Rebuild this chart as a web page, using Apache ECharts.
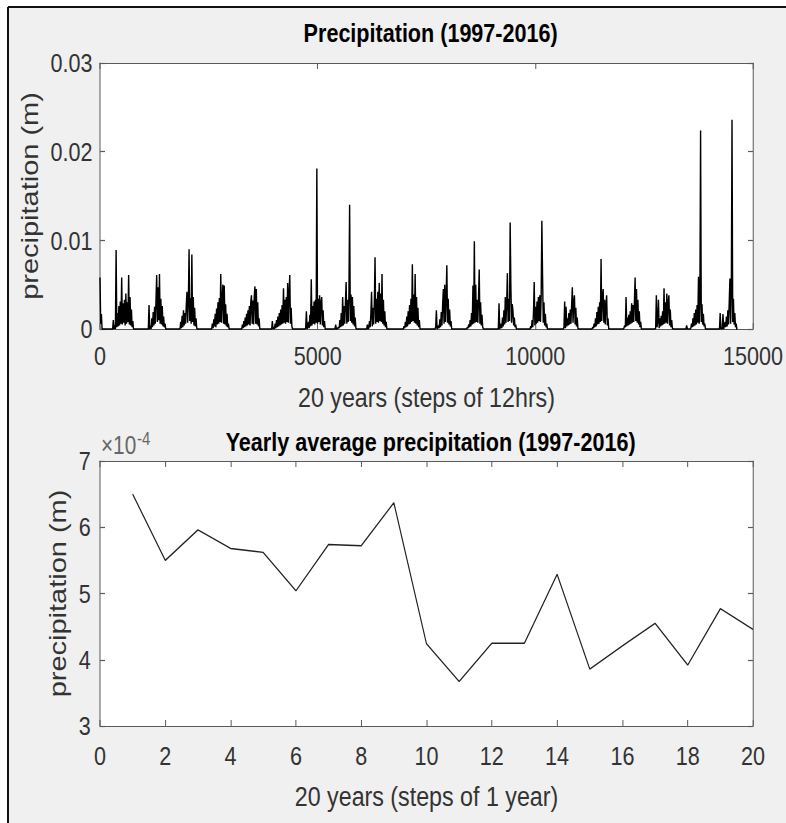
<!DOCTYPE html>
<html>
<head>
<meta charset="utf-8">
<script src="https://cdn.jsdelivr.net/npm/echarts@6/dist/echarts.min.js"></script>
<style>
  html, body { margin: 0; padding: 0; background: #ffffff; overflow: hidden; }
  #frame { width: 786px; height: 823px; overflow: hidden; position: relative; }
  #chart { height: 823px; transform-origin: 0 0; position: absolute; left: 0; top: 0; }
</style>
</head>
<body>
<div id="frame"><div id="chart"></div></div>
<script>
// ---- 12-hourly precipitation record (m), one block per wet season ----
// Each block holds samples taken every SAMPLE_GAP steps, starting at seasonStart[k].
const SAMPLE_GAP = 16;
const RECORD_END = 14610;
const seasonStart = [0, 290, 1110, 1838, 2566, 3255, 3943, 4709, 5398, 6126, 6967,
                     7695, 8423, 9150, 9878, 10642, 11302, 12020, 12748, 13460, 14230];

const season00 = [0.0058, 0.0006, 0.0017, 0];
const season01 = [0, 0.0010, 0, 0.0004, 0, 0.0089, 0.0002, 0.0018, 0.0003, 0.0026, 0.0004, 0.0031, 0.0006, 0.0058, 0.0005, 0.0029,
                  0.0007, 0.0033, 0.0004, 0.0040, 0.0006, 0.0030, 0.0008, 0.0061, 0.0005, 0.0036, 0.0004, 0.0022, 0.0002, 0.0009, 0];
const season02 = [0, 0.0027, 0, 0.0003, 0, 0.0012, 0.0002, 0.0019, 0.0004, 0.0025, 0.0006, 0.0032, 0.0061, 0.0008, 0.0047, 0.0010,
                  0.0062, 0.0006, 0.0034, 0.0005, 0.0026, 0.0003, 0.0014, 0.0002, 0.0006, 0];
const season03 = [0, 0.0008, 0.0001, 0.0015, 0.0002, 0.0021, 0.0004, 0.0018, 0.0006, 0.0027, 0.0042, 0.0007, 0.0031, 0.0090, 0.0009,
                  0.0035, 0.0006, 0.0084, 0.0008, 0.0036, 0.0004, 0.0024, 0.0003, 0.0012, 0.0001, 0];
const season04 = [0, 0.0006, 0.0001, 0.0011, 0.0003, 0.0017, 0.0002, 0.0023, 0.0005, 0.0030, 0.0006, 0.0035, 0.0008, 0.0062, 0.0007,
                  0.0033, 0.0050, 0.0006, 0.0049, 0.0005, 0.0028, 0.0003, 0.0017, 0.0002, 0.0006, 0];
const season05 = [0, 0.0005, 0.0001, 0.0009, 0.0002, 0.0013, 0.0003, 0.0017, 0.0004, 0.0021, 0.0005, 0.0026, 0.0004, 0.0030, 0.0038,
                  0.0006, 0.0032, 0.0005, 0.0036, 0.0048, 0.0006, 0.0045, 0.0005, 0.0030, 0.0003, 0.0012, 0];
const season06 = [0, 0.0009, 0, 0.0002, 0, 0.0006, 0.0001, 0.0010, 0.0002, 0.0014, 0.0003, 0.0018, 0.0004, 0.0022, 0.0005, 0.0027,
                  0.0006, 0.0046, 0.0007, 0.0033, 0.0006, 0.0036, 0.0008, 0.0052, 0.0007, 0.0040, 0.0061, 0.0006, 0.0024, 0.0003, 0];
const season07 = [0, 0.0001, 0.0020, 0, 0.0002, 0.0008, 0.0001, 0.0016, 0.0003, 0.0056, 0.0004, 0.0026, 0.0006, 0.0031, 0.0005,
                  0.0033, 0.0007, 0.0181, 0.0006, 0.0034, 0.0008, 0.0038, 0.0005, 0.0030, 0.0036, 0.0004, 0.0021, 0.0002, 0.0009, 0];
const season08 = [0, 0.0005, 0, 0, 0.0001, 0.0002, 0.0001, 0.0010, 0.0002, 0.0018, 0.0003, 0.0036, 0.0004, 0.0026, 0.0006, 0.0030,
                  0.0053, 0.0006, 0.0033, 0.0008, 0.0038, 0.0140, 0.0009, 0.0039, 0.0007, 0.0036, 0.0005, 0.0026, 0.0003, 0.0013, 0.0001, 0];
const season09 = [0, 0.0005, 0, 0.0001, 0.0009, 0.0002, 0.0017, 0.0042, 0.0003, 0.0024, 0.0005, 0.0030, 0.0081, 0.0006, 0.0034,
                  0.0008, 0.0042, 0.0007, 0.0052, 0.0009, 0.0040, 0.0008, 0.0062, 0.0006, 0.0033, 0.0004, 0.0020, 0.0002, 0.0008, 0];
const season10 = [0, 0.0003, 0.0001, 0.0008, 0.0002, 0.0014, 0.0003, 0.0020, 0.0005, 0.0027, 0.0006, 0.0034, 0.0008, 0.0073, 0.0009,
                  0.0039, 0.0007, 0.0062, 0.0006, 0.0036, 0.0004, 0.0024, 0.0002, 0.0010, 0];
const season11 = [0, 0.0002, 0.0021, 0, 0.0001, 0.0004, 0.0001, 0.0011, 0.0002, 0.0019, 0.0004, 0.0028, 0.0045, 0.0006, 0.0050,
                  0.0008, 0.0036, 0.0072, 0.0007, 0.0034, 0.0005, 0.0022, 0.0003, 0.0009, 0];
const season12 = [0, 0.0002, 0.0001, 0.0005, 0.0002, 0.0010, 0.0003, 0.0018, 0.0005, 0.0049, 0.0006, 0.0099, 0.0007, 0.0050, 0.0008,
                  0.0033, 0.0007, 0.0035, 0.0067, 0.0006, 0.0030, 0.0004, 0.0016, 0.0002, 0];
const season13 = [0, 0.0029, 0, 0.0002, 0.0006, 0.0001, 0.0013, 0.0003, 0.0021, 0.0005, 0.0036, 0.0007, 0.0030, 0.0063, 0.0008,
                  0.0034, 0.0009, 0.0120, 0.0049, 0.0007, 0.0028, 0.0020, 0.0004, 0.0013, 0.0002, 0.0005, 0];
const season14 = [0, 0.0003, 0.0001, 0.0010, 0.0002, 0.0019, 0.0053, 0.0004, 0.0025, 0.0006, 0.0031, 0.0007, 0.0036, 0.0009, 0.0038,
                  0.0008, 0.0037, 0.0122, 0.0060, 0.0007, 0.0030, 0.0004, 0.0017, 0.0002, 0.0006, 0];
const season15 = [0, 0.0002, 0.0031, 0.0001, 0.0025, 0.0003, 0.0012, 0.0004, 0.0018, 0.0005, 0.0022, 0.0006, 0.0027, 0.0047, 0.0007,
                  0.0030, 0.0038, 0.0005, 0.0024, 0.0003, 0.0013, 0.0001, 0];
const season16 = [0, 0.0002, 0.0001, 0.0006, 0.0002, 0.0012, 0.0003, 0.0019, 0.0005, 0.0025, 0.0006, 0.0030, 0.0008, 0.0079, 0.0009,
                  0.0036, 0.0045, 0.0007, 0.0033, 0.0005, 0.0028, 0.0038, 0.0004, 0.0012, 0];
const season17 = [0, 0.0001, 0.0004, 0.0002, 0.0036, 0.0003, 0.0013, 0.0004, 0.0016, 0.0005, 0.0020, 0.0006, 0.0029, 0.0007, 0.0027,
                  0.0008, 0.0031, 0.0058, 0.0009, 0.0045, 0.0007, 0.0033, 0.0005, 0.0020, 0.0002, 0.0008, 0];
const season18 = [0, 0.0001, 0.0038, 0.0002, 0.0009, 0.0033, 0.0001, 0.0012, 0.0003, 0.0015, 0.0004, 0.0020, 0.0005, 0.0046, 0.0006,
                  0.0030, 0.0007, 0.0040, 0.0006, 0.0031, 0.0038, 0.0004, 0.0022, 0.0002, 0.0010, 0.0001, 0];
const season19 = [0, 0.0004, 0, 0, 0, 0, 0, 0.0001, 0.0006, 0.0002, 0.0012, 0.0003, 0.0018, 0.0004, 0.0022, 0.0005, 0.0027, 0.0007,
                  0.0059, 0.0006, 0.0031, 0.0224, 0.0008, 0.0028, 0.0005, 0.0017, 0.0003, 0.0006, 0];
const season20 = [0, 0.0018, 0, 0.0001, 0, 0.0017, 0, 0.0003, 0.0008, 0.0002, 0.0014, 0.0003, 0.0021, 0.0005, 0.0030, 0.0057,
                  0.0006, 0.0041, 0.0236, 0.0008, 0.0034, 0.0005, 0.0018, 0.0002, 0.0006, 0];

// ---- yearly average precipitation, in units of 1e-4 m ----
const yearIndex = [1, 2, 3, 4, 5, 6, 7, 8, 9, 10, 11, 12, 13, 14, 15, 16, 17, 18, 19, 20];
const yearlyMean = [6.50, 5.50, 5.96, 5.68, 5.62, 5.04, 5.74, 5.72, 6.37, 4.24,
                    3.67, 4.25, 4.25, 5.29, 3.86, 4.21, 4.55, 3.92, 4.77, 4.46];

// tick values
const stepTicks = [0, 5000, 10000, 15000];
const rainTicks = [0, 0.01, 0.02, 0.03];
const yearTicks = [0, 2, 4, 6, 8, 10, 12, 14, 16, 18, 20];
const meanTicks = [3, 4, 5, 6, 7];

const seasons = [season00, season01, season02, season03, season04, season05, season06, season07,
                 season08, season09, season10, season11, season12, season13, season14, season15,
                 season16, season17, season18, season19, season20];

const rainSeries = [];
seasons.forEach((vals, k) => {
  vals.forEach((v, i) => rainSeries.push([seasonStart[k] + i * SAMPLE_GAP, v]));
});
rainSeries.push([RECORD_END, 0]);

const meanSeries = yearIndex.map((x, i) => [x, yearlyMean[i]]);

// The figure is laid out wide and then condensed horizontally as a whole.
const SQUEEZE = 0.83;
const PAGE_W = 786, PAGE_H = 823;
const sx = v => v / SQUEEZE;

const el = document.getElementById('chart');
el.style.width = sx(PAGE_W) + 'px';
el.style.transform = 'scaleX(' + SQUEEZE + ')';

const FONT = "'Liberation Sans', Arial, sans-serif";
const AX = '#5a5a5a';
const TXT = '#333333';

function boxAxis(opts) {
  return Object.assign({
    type: 'value',
    axisLine: { show: true, onZero: false, lineStyle: { color: AX, width: 1.2 } },
    axisTick: { show: true, inside: true, length: 6, lineStyle: { color: AX, width: 1.2 } },
    splitLine: { show: false },
    axisLabel: { show: false }
  }, opts);
}

const chart = echarts.init(el, null, { renderer: 'svg' });

chart.setOption({
  backgroundColor: '#ffffff',
  animation: false,
  graphic: [
    { type: 'rect', z: -10, shape: { x: sx(8), y: 7, width: sx(PAGE_W), height: PAGE_H }, style: { fill: '#f0f0f0' } },
    { type: 'line', z: -9, shape: { x1: sx(8), y1: 7, x2: sx(PAGE_W), y2: 7 }, style: { stroke: '#111', lineWidth: 2 } },
    { type: 'line', z: -9, shape: { x1: sx(8), y1: 7, x2: sx(8), y2: PAGE_H }, style: { stroke: '#111', lineWidth: 2.4 } },
    {
      type: 'text', left: sx(101), top: 430,
      style: {
        text: '{a|×10}{b|-4}',
        rich: {
          a: { fontFamily: FONT, fontSize: 25, fill: '#666' },
          b: { fontFamily: FONT, fontSize: 18, fill: '#666', verticalAlign: 'top', padding: [0, 0, 12, 1] }
        }
      }
    }
  ],
  title: [
    { text: 'Precipitation (1997-2016)', left: sx(426.5), top: 15, textAlign: 'center',
      textStyle: { fontFamily: FONT, fontSize: 26, fontWeight: 'bold', color: '#000' } },
    { text: 'Yearly average precipitation (1997-2016)', left: sx(426.5), top: 424, textAlign: 'center',
      textStyle: { fontFamily: FONT, fontSize: 26, fontWeight: 'bold', color: '#000' } }
  ],
  grid: [
    { left: sx(100), top: 63, width: sx(653), height: 266, backgroundColor: '#ffffff', show: true, borderWidth: 0 },
    { left: sx(100), top: 461, width: sx(653), height: 265, backgroundColor: '#ffffff', show: true, borderWidth: 0 }
  ],
  xAxis: [
    boxAxis({
      gridIndex: 0, position: 'bottom', min: stepTicks[0], max: stepTicks[stepTicks.length - 1], interval: 5000,
      axisLabel: { show: true, margin: 14, color: TXT, fontFamily: FONT, fontSize: 26, formatter: v => String(v) },
      name: '20 years (steps of 12hrs)', nameLocation: 'middle', nameGap: 54,
      nameTextStyle: { fontFamily: FONT, fontSize: 28, color: TXT }
    }),
    boxAxis({ gridIndex: 0, position: 'top', min: stepTicks[0], max: stepTicks[stepTicks.length - 1], interval: 5000 }),
    boxAxis({
      gridIndex: 1, position: 'bottom', min: yearTicks[0], max: yearTicks[yearTicks.length - 1], interval: 2,
      axisLabel: { show: true, margin: 17, color: TXT, fontFamily: FONT, fontSize: 26, formatter: v => String(v) },
      name: '20 years (steps of 1 year)', nameLocation: 'middle', nameGap: 56,
      nameTextStyle: { fontFamily: FONT, fontSize: 28, color: TXT }
    }),
    boxAxis({ gridIndex: 1, position: 'top', min: yearTicks[0], max: yearTicks[yearTicks.length - 1], interval: 2 })
  ],
  yAxis: [
    boxAxis({
      gridIndex: 0, position: 'left', min: rainTicks[0], max: rainTicks[rainTicks.length - 1], interval: 0.01,
      axisLabel: { show: true, margin: 9, color: TXT, fontFamily: FONT, fontSize: 26,
                   formatter: v => (v === 0 ? '0' : v.toFixed(2)) },
      name: 'precipitation (m)', nameLocation: 'middle', nameGap: 48, nameRotate: 90,
      nameTextStyle: { fontFamily: FONT, fontSize: 29, color: TXT }
    }),
    boxAxis({ gridIndex: 0, position: 'right', min: rainTicks[0], max: rainTicks[rainTicks.length - 1], interval: 0.01 }),
    boxAxis({
      gridIndex: 1, position: 'left', min: meanTicks[0], max: meanTicks[meanTicks.length - 1], interval: 1,
      axisLabel: { show: true, margin: 11, color: TXT, fontFamily: FONT, fontSize: 26, formatter: v => String(v) },
      name: 'precipitation (m)', nameLocation: 'middle', nameGap: 20, nameRotate: 90,
      nameTextStyle: { fontFamily: FONT, fontSize: 29, color: TXT }
    }),
    boxAxis({ gridIndex: 1, position: 'right', min: meanTicks[0], max: meanTicks[meanTicks.length - 1], interval: 1 })
  ],
  series: [
    {
      type: 'line', xAxisIndex: 0, yAxisIndex: 0, data: rainSeries,
      showSymbol: false, sampling: null, clip: false,
      lineStyle: { color: '#000000', width: 1.7 }
    },
    {
      type: 'line', xAxisIndex: 2, yAxisIndex: 2, data: meanSeries,
      showSymbol: false, clip: true,
      lineStyle: { color: '#222222', width: 1.4 }
    }
  ]
});
</script>
</body>
</html>
